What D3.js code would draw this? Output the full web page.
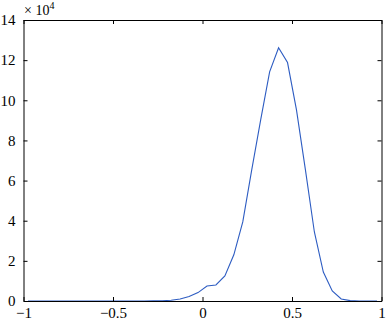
<!DOCTYPE html>
<html>
<head>
<meta charset="utf-8">
<script src="https://cdn.jsdelivr.net/npm/d3@7"></script>
<style>
  body { margin: 0; background: #fff; }
  text { font-family: "Liberation Serif", "Times New Roman", serif; }
</style>
</head>
<body>
<script>
// bin centres and counts
const binCenters = [-0.975, -0.925, -0.875, -0.825, -0.775, -0.725, -0.675, -0.625, -0.575, -0.525,
                    -0.475, -0.425, -0.375, -0.325, -0.275, -0.225, -0.175, -0.125, -0.075, -0.025,
                     0.025,  0.075,  0.125,  0.175,  0.225,  0.275,  0.325,  0.375,  0.425,  0.475,
                     0.525,  0.575,  0.625,  0.675,  0.725,  0.775,  0.825,  0.875,  0.925,  0.975];
const counts = [0, 0, 0, 0, 0, 0, 0, 0, 0, 0,
                0, 0, 0, 10, 40, 150, 350, 1000, 2200, 4200,
                7500, 8000, 12500, 23000, 39400, 65300, 90200, 114200, 126200, 118800,
                95200, 65300, 34400, 14400, 5000, 1000, 200, 0, 0, 0];
const xTicks = [-1, -0.5, 0, 0.5, 1];
const yTicks = [0, 20000, 40000, 60000, 80000, 100000, 120000, 140000];

const W = 391, H = 322;
const margin = {top: 20, right: 9.5, bottom: 21, left: 23.5};
const width = W - margin.left - margin.right;
const height = H - margin.top - margin.bottom;
const serif = "'Liberation Serif', 'Times New Roman', serif";

const svg = d3.select("body").append("svg")
    .attr("width", W)
    .attr("height", H);

const g = svg.append("g")
    .attr("transform", "translate(" + margin.left + "," + margin.top + ")");

const xScale = d3.scaleLinear().domain([-1, 1]).range([0, width]);
const yScale = d3.scaleLinear().domain([0, 140000]).range([height, 0]);

const data = binCenters.map((c, i) => ({x: c, y: counts[i]}));

// the curve
g.append("path")
    .datum(data)
    .attr("fill", "none")
    .attr("stroke", "#2d5cc2")
    .attr("stroke-width", 1.1)
    .attr("d", d3.line().x(d => xScale(d.x)).y(d => yScale(d.y)));

// axes, matlab style: inward ticks on all four sides
const fmtX = d => d === 0 ? "0" : String(d).replace("-", "\u2212");
const fmtY = d => String(d / 10000);

const xBottom = d3.axisBottom(xScale).tickValues(xTicks).tickSizeInner(-4).tickSizeOuter(0)
    .tickPadding(6).tickFormat(fmtX);
const xTop = d3.axisTop(xScale).tickValues(xTicks).tickSizeInner(-4).tickSizeOuter(0).tickFormat("");
const yLeft = d3.axisLeft(yScale).tickValues(yTicks).tickSizeInner(-4).tickSizeOuter(0)
    .tickPadding(8).tickFormat(fmtY);
const yRight = d3.axisRight(yScale).tickValues(yTicks).tickSizeInner(-4).tickSizeOuter(0).tickFormat("");

const styleAxis = sel => {
    sel.attr("font-family", serif).attr("font-size", 15);
    sel.selectAll("path").attr("stroke", "#000").attr("stroke-width", 1);
    sel.selectAll("line").attr("stroke", "#000").attr("stroke-width", 1);
    sel.selectAll("text").attr("fill", "#000").style("font-size", "15px")
        .style("font-family", serif);
};

g.append("g").attr("transform", "translate(0," + height + ")").call(xBottom).call(styleAxis);
g.append("g").call(xTop).call(styleAxis);
g.append("g").call(yLeft).call(styleAxis);
g.append("g").attr("transform", "translate(" + width + ",0)").call(yRight).call(styleAxis);

// exponent label
const expo = svg.append("text")
    .attr("x", 24)
    .attr("y", 15)
    .style("font-size", "14px")
    .style("font-family", serif)
    .attr("fill", "#000");
expo.append("tspan").text("\u00d7 10");
expo.append("tspan").attr("dy", -6).style("font-size", "10px").text("4");
</script>
</body>
</html>
